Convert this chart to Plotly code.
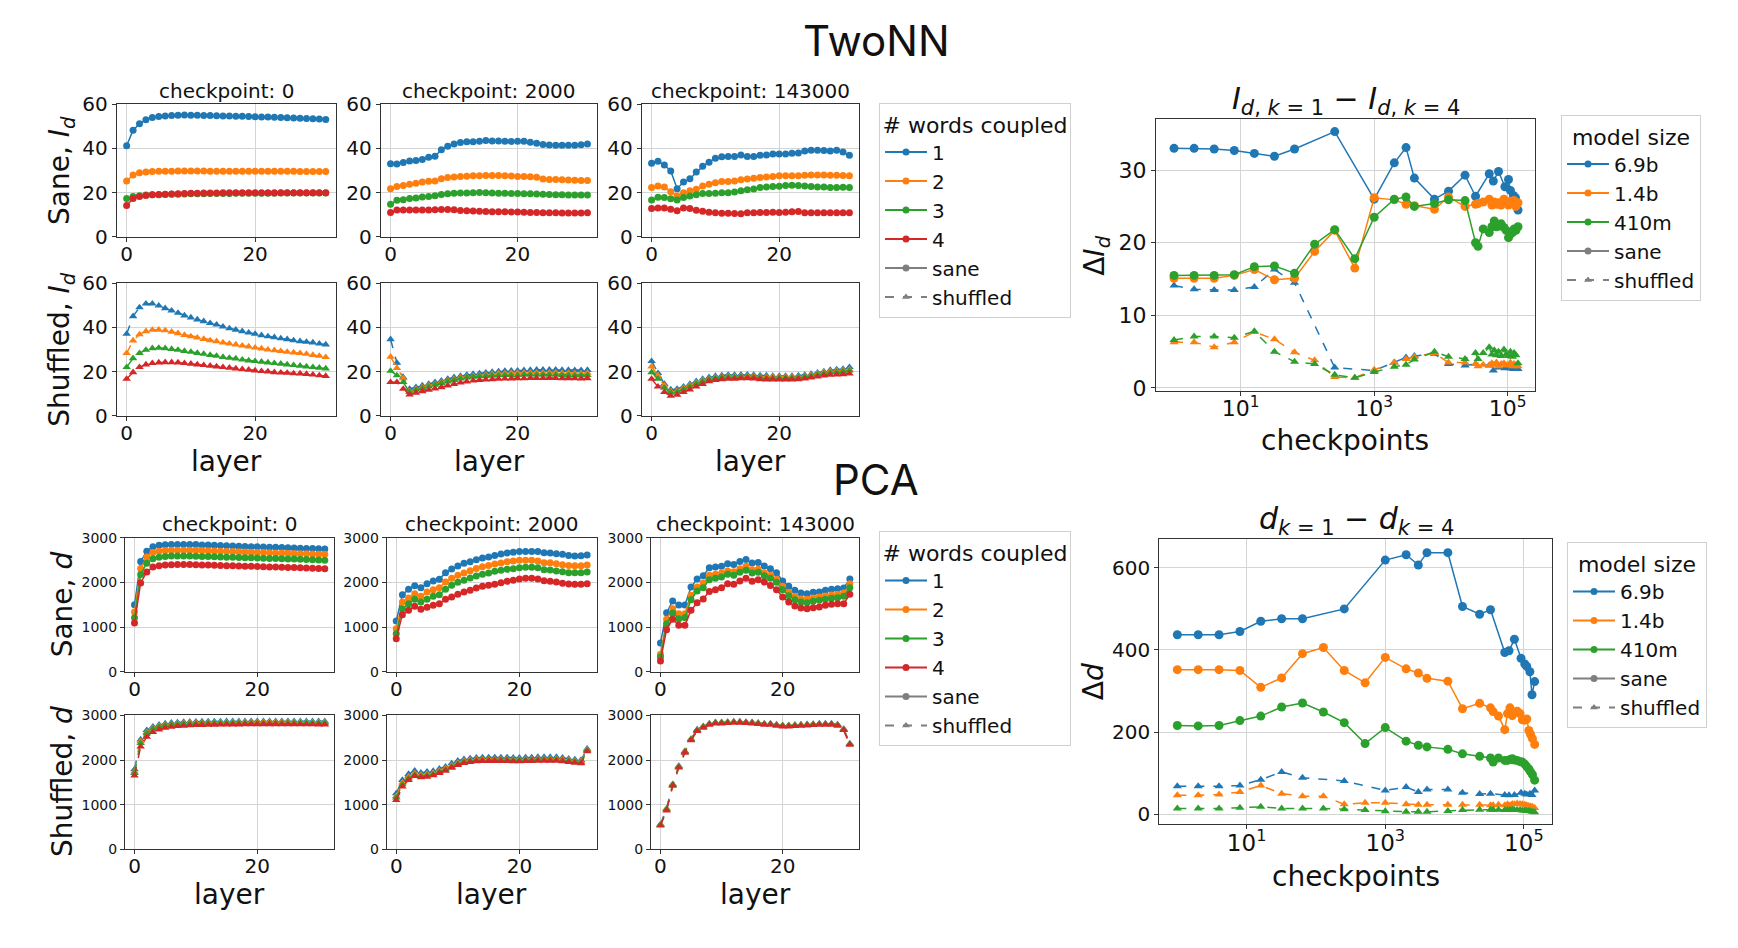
import plotly.graph_objects as go

W, H = 1738, 948
FONT = "DejaVu Sans"
COLORS = ["#1f77b4", "#ff7f0e", "#2ca02c", "#d62728"]
GRAY = "#7f7f7f"

layers = list(range(32))
checkpoint_titles = ["checkpoint: 0", "checkpoint: 2000", "checkpoint: 143000"]
k_labels = ["1", "2", "3", "4"]
model_labels = ["6.9b", "1.4b", "410m"]

# ---------------- TwoNN, sane ----------------
tw_sane_c0_k1 = [41.2, 48.3, 51.2, 53.0, 54.0, 54.5, 54.7, 54.9, 55.0, 55.2, 55.0, 55.0, 54.9, 54.9, 54.8, 54.7, 54.7, 54.6, 54.6, 54.5, 54.4, 54.3, 54.2, 54.1, 54.0, 53.9, 53.8, 53.7, 53.6, 53.5, 53.3, 53.1]
tw_sane_c0_k2 = [25.3, 28.0, 29.0, 29.4, 29.6, 29.7, 29.7, 29.7, 29.8, 29.8, 29.8, 29.8, 29.8, 29.7, 29.7, 29.7, 29.7, 29.7, 29.7, 29.7, 29.7, 29.7, 29.7, 29.7, 29.7, 29.7, 29.7, 29.6, 29.6, 29.6, 29.6, 29.6]
tw_sane_c0_k3 = [17.4, 18.2, 18.6, 18.9, 19.0, 19.1, 19.2, 19.3, 19.3, 19.4, 19.5, 19.5, 19.5, 19.6, 19.6, 19.6, 19.6, 19.7, 19.7, 19.7, 19.7, 19.7, 19.7, 19.7, 19.8, 19.8, 19.8, 19.8, 19.8, 19.8, 19.8, 19.8]
tw_sane_c0_k4 = [14.2, 17.3, 18.2, 18.7, 19.0, 19.2, 19.3, 19.4, 19.5, 19.6, 19.7, 19.7, 19.8, 19.8, 19.8, 19.9, 19.9, 19.9, 19.9, 19.9, 20.0, 20.0, 20.0, 20.0, 20.0, 20.0, 20.0, 20.0, 20.0, 20.0, 20.0, 20.0]

tw_sane_c1_k1 = [33.1, 33.0, 33.7, 34.3, 34.5, 35.0, 36.0, 36.5, 39.4, 41.0, 42.0, 42.7, 43.0, 43.0, 43.3, 43.6, 43.4, 43.4, 43.3, 43.2, 43.3, 43.3, 42.8, 42.4, 41.8, 41.6, 41.5, 41.5, 41.5, 41.5, 41.7, 42.0]
tw_sane_c1_k2 = [21.8, 22.8, 23.2, 23.8, 24.2, 24.8, 25.2, 25.3, 26.3, 26.8, 27.1, 27.3, 27.4, 27.6, 27.7, 27.8, 27.8, 27.8, 27.6, 27.5, 27.3, 27.3, 27.2, 27.0, 26.2, 26.0, 25.9, 25.8, 25.7, 25.6, 25.5, 25.5]
tw_sane_c1_k3 = [14.7, 16.6, 16.8, 17.3, 17.6, 18.0, 18.3, 18.6, 19.2, 19.5, 19.7, 19.8, 19.8, 20.0, 20.1, 19.9, 19.8, 19.7, 19.7, 19.6, 19.6, 19.5, 19.5, 19.4, 19.3, 19.2, 19.1, 19.0, 18.9, 18.9, 18.9, 18.9]
tw_sane_c1_k4 = [11.0, 12.1, 12.1, 12.1, 12.1, 12.1, 12.1, 12.2, 12.4, 12.4, 12.2, 11.9, 11.8, 11.7, 11.6, 11.5, 11.4, 11.4, 11.3, 11.2, 11.2, 11.1, 11.0, 11.0, 10.9, 10.9, 10.9, 10.8, 10.8, 10.8, 10.8, 10.9]

tw_sane_c2_k1 = [33.3, 34.2, 32.5, 29.8, 21.8, 24.8, 26.3, 29.3, 31.9, 33.8, 35.6, 36.2, 36.4, 36.4, 37.0, 36.4, 36.4, 36.9, 37.0, 37.5, 37.5, 37.5, 37.8, 38.0, 38.9, 39.2, 39.2, 39.1, 38.9, 39.2, 38.4, 36.9]
tw_sane_c2_k2 = [22.3, 23.0, 22.6, 20.4, 18.5, 20.0, 20.8, 21.5, 23.0, 23.8, 24.5, 25.0, 25.0, 25.3, 25.8, 26.2, 26.5, 26.8, 27.1, 27.3, 27.6, 27.6, 27.7, 27.7, 27.9, 28.0, 28.0, 28.0, 27.9, 27.9, 27.8, 27.6]
tw_sane_c2_k3 = [16.7, 17.9, 17.8, 17.2, 16.7, 17.8, 18.5, 19.1, 19.6, 19.6, 19.7, 20.0, 20.0, 20.3, 20.8, 21.3, 21.7, 22.3, 22.6, 22.8, 22.9, 23.2, 23.4, 23.2, 23.0, 22.8, 22.6, 22.5, 22.3, 22.3, 22.4, 22.3]
tw_sane_c2_k4 = [12.8, 13.0, 13.0, 12.5, 11.8, 13.1, 12.8, 12.0, 11.6, 11.1, 10.9, 10.7, 10.7, 10.6, 10.4, 10.9, 10.9, 11.0, 11.0, 11.1, 11.0, 11.1, 11.3, 11.5, 10.9, 10.9, 10.9, 10.9, 10.9, 10.9, 10.9, 10.9]

# ---------------- TwoNN, shuffled ----------------
tw_shuf_c0_k1 = [37.0, 45.0, 49.0, 50.7, 50.7, 49.8, 48.6, 47.5, 46.5, 45.3, 44.4, 43.5, 42.7, 41.9, 41.2, 40.3, 39.5, 38.9, 38.2, 37.6, 37.0, 36.4, 35.9, 35.5, 35.0, 34.6, 34.1, 33.7, 33.4, 33.1, 32.6, 32.2]
tw_shuf_c0_k2 = [28.3, 34.0, 36.8, 38.2, 38.8, 38.9, 38.6, 38.0, 37.3, 36.5, 35.9, 35.3, 34.7, 34.1, 33.7, 33.1, 32.6, 32.2, 31.7, 31.3, 30.8, 30.4, 29.9, 29.6, 29.2, 28.9, 28.6, 28.3, 28.0, 27.5, 27.1, 26.5]
tw_shuf_c0_k3 = [22.0, 26.0, 28.3, 29.8, 30.5, 30.7, 30.5, 30.2, 29.8, 29.3, 28.9, 28.4, 28.0, 27.5, 27.1, 26.6, 26.2, 25.9, 25.4, 25.0, 24.7, 24.4, 24.1, 23.8, 23.5, 23.2, 22.9, 22.6, 22.3, 22.0, 21.7, 21.4]
tw_shuf_c0_k4 = [16.7, 19.7, 22.0, 23.2, 23.8, 24.1, 24.2, 24.2, 24.1, 23.8, 23.5, 23.2, 22.9, 22.6, 22.3, 22.0, 21.7, 21.4, 21.1, 20.8, 20.5, 20.2, 20.0, 19.7, 19.5, 19.4, 19.2, 19.1, 18.9, 18.6, 18.3, 18.0]

tw_shuf_c1_k1 = [34.6, 24.0, 17.4, 12.2, 12.9, 13.7, 14.4, 15.2, 15.9, 16.7, 17.4, 18.0, 18.5, 18.9, 19.2, 19.5, 19.8, 20.1, 20.3, 20.4, 20.4, 20.6, 20.7, 20.8, 20.8, 20.8, 20.8, 20.7, 20.7, 20.6, 20.6, 20.7]
tw_shuf_c1_k2 = [26.7, 21.6, 17.0, 11.0, 12.2, 12.9, 13.7, 14.4, 15.2, 15.9, 16.7, 17.3, 17.7, 18.0, 18.3, 18.6, 18.9, 19.1, 19.2, 19.4, 19.4, 19.5, 19.5, 19.5, 19.5, 19.5, 19.5, 19.4, 19.4, 19.2, 19.2, 19.4]
tw_shuf_c1_k3 = [20.3, 18.3, 15.2, 10.7, 11.7, 12.5, 13.2, 14.0, 14.7, 15.5, 16.2, 16.8, 17.3, 17.6, 17.9, 18.0, 18.2, 18.3, 18.4, 18.4, 18.4, 18.6, 18.6, 18.6, 18.6, 18.6, 18.6, 18.4, 18.4, 18.3, 18.3, 18.4]
tw_shuf_c1_k4 = [15.2, 15.2, 12.2, 9.6, 10.4, 11.1, 11.7, 12.3, 12.9, 13.7, 14.4, 15.0, 15.5, 15.9, 16.2, 16.4, 16.5, 16.7, 16.8, 16.8, 17.0, 17.0, 17.1, 17.1, 17.1, 17.1, 17.1, 17.0, 17.0, 17.0, 16.8, 17.0]

tw_shuf_c2_k1 = [24.7, 19.3, 14.4, 11.9, 12.2, 13.2, 14.4, 15.6, 16.7, 17.4, 18.0, 18.3, 18.5, 18.5, 18.6, 18.6, 18.5, 18.3, 18.2, 18.0, 18.0, 18.0, 18.0, 18.2, 18.5, 18.9, 19.5, 20.1, 20.7, 21.0, 21.2, 22.0]
tw_shuf_c2_k2 = [22.3, 18.2, 13.7, 11.1, 11.4, 12.6, 13.8, 15.0, 16.1, 16.8, 17.4, 17.7, 17.9, 17.9, 18.0, 18.0, 17.9, 17.7, 17.6, 17.6, 17.6, 17.6, 17.6, 17.7, 18.0, 18.5, 19.1, 19.7, 20.1, 20.4, 20.6, 21.0]
tw_shuf_c2_k3 = [19.7, 16.7, 12.6, 10.4, 10.8, 12.0, 13.2, 14.4, 15.5, 16.4, 17.0, 17.3, 17.4, 17.4, 17.6, 17.6, 17.4, 17.3, 17.1, 17.1, 17.1, 17.1, 17.1, 17.3, 17.6, 18.0, 18.6, 19.1, 19.5, 19.8, 20.0, 20.4]
tw_shuf_c2_k4 = [16.7, 13.2, 10.7, 9.0, 9.5, 10.7, 11.9, 13.2, 14.4, 15.6, 16.2, 16.5, 16.7, 16.7, 17.0, 17.0, 16.8, 16.5, 16.4, 16.4, 16.4, 16.4, 16.4, 16.5, 16.8, 17.3, 17.7, 18.2, 18.5, 18.6, 18.8, 19.1]

# ---------------- PCA, sane ----------------
pca_sane_c0_k1 = [1500, 2470, 2700, 2800, 2830, 2845, 2850, 2850, 2850, 2850, 2848, 2840, 2835, 2830, 2825, 2820, 2815, 2810, 2805, 2800, 2800, 2795, 2790, 2785, 2780, 2775, 2770, 2765, 2760, 2758, 2755, 2750]
pca_sane_c0_k2 = [1340, 2310, 2570, 2670, 2700, 2715, 2720, 2722, 2722, 2720, 2718, 2712, 2708, 2703, 2698, 2694, 2690, 2685, 2680, 2676, 2672, 2668, 2664, 2660, 2656, 2652, 2648, 2644, 2640, 2636, 2632, 2628]
pca_sane_c0_k3 = [1210, 2180, 2430, 2530, 2565, 2580, 2590, 2592, 2592, 2590, 2588, 2582, 2578, 2574, 2570, 2566, 2562, 2558, 2554, 2550, 2546, 2542, 2538, 2534, 2530, 2526, 2522, 2518, 2514, 2508, 2502, 2496]
pca_sane_c0_k4 = [1095, 1990, 2235, 2345, 2375, 2388, 2395, 2400, 2402, 2400, 2396, 2392, 2388, 2384, 2380, 2376, 2372, 2368, 2364, 2360, 2356, 2352, 2348, 2344, 2340, 2336, 2332, 2328, 2324, 2318, 2312, 2306]

pca_sane_c1_k1 = [1139, 1727, 1846, 1928, 1883, 1972, 2032, 2070, 2219, 2300, 2367, 2427, 2464, 2509, 2546, 2568, 2605, 2635, 2658, 2673, 2695, 2695, 2695, 2692, 2665, 2658, 2643, 2628, 2605, 2590, 2598, 2613]
pca_sane_c1_k2 = [968, 1564, 1653, 1750, 1690, 1787, 1839, 1883, 2010, 2092, 2159, 2211, 2263, 2315, 2352, 2382, 2412, 2434, 2464, 2479, 2494, 2494, 2494, 2479, 2442, 2442, 2419, 2397, 2382, 2375, 2375, 2390]
pca_sane_c1_k3 = [856, 1415, 1527, 1623, 1564, 1623, 1690, 1727, 1846, 1936, 2003, 2048, 2100, 2144, 2182, 2211, 2249, 2271, 2293, 2308, 2330, 2338, 2338, 2330, 2286, 2280, 2256, 2241, 2219, 2219, 2219, 2234]
pca_sane_c1_k4 = [744, 1281, 1378, 1467, 1400, 1444, 1489, 1527, 1623, 1675, 1735, 1787, 1824, 1876, 1914, 1936, 1958, 1995, 2025, 2048, 2077, 2092, 2092, 2077, 2040, 2025, 2010, 1981, 1966, 1958, 1958, 1973]

pca_sane_c2_k1 = [648, 1325, 1586, 1496, 1496, 1898, 2077, 2151, 2330, 2345, 2360, 2419, 2404, 2471, 2516, 2434, 2449, 2367, 2308, 2219, 2032, 1913, 1824, 1764, 1749, 1779, 1786, 1824, 1846, 1861, 1876, 2077]
pca_sane_c2_k2 = [395, 1176, 1414, 1303, 1303, 1712, 1898, 1987, 2159, 2181, 2211, 2256, 2241, 2308, 2360, 2286, 2293, 2219, 2159, 2070, 1913, 1779, 1690, 1630, 1623, 1652, 1675, 1697, 1720, 1734, 1764, 1973]
pca_sane_c2_k3 = [335, 1079, 1318, 1191, 1213, 1615, 1809, 1883, 2062, 2092, 2122, 2181, 2159, 2226, 2271, 2211, 2226, 2151, 2092, 2003, 1839, 1705, 1615, 1563, 1548, 1578, 1600, 1623, 1645, 1660, 1690, 1883]
pca_sane_c2_k4 = [246, 946, 1176, 1042, 1042, 1377, 1548, 1630, 1801, 1839, 1883, 1973, 1958, 2032, 2092, 2025, 2062, 2010, 1935, 1839, 1675, 1563, 1474, 1429, 1414, 1437, 1451, 1489, 1511, 1526, 1526, 1734]

# ---------------- PCA, shuffled ----------------
pca_shuf_c0_k1 = [1790, 2460, 2670, 2750, 2790, 2820, 2835, 2845, 2855, 2860, 2862, 2865, 2866, 2867, 2868, 2869, 2870, 2870, 2871, 2872, 2873, 2873, 2873, 2873, 2872, 2872, 2872, 2871, 2871, 2870, 2870, 2869]
pca_shuf_c0_k2 = [1740, 2420, 2630, 2720, 2765, 2795, 2810, 2820, 2830, 2835, 2838, 2840, 2842, 2843, 2844, 2845, 2846, 2846, 2847, 2848, 2848, 2849, 2849, 2849, 2848, 2848, 2848, 2848, 2847, 2847, 2846, 2846]
pca_shuf_c0_k3 = [1710, 2380, 2600, 2700, 2745, 2775, 2790, 2800, 2808, 2813, 2816, 2818, 2820, 2821, 2822, 2823, 2824, 2825, 2825, 2826, 2826, 2827, 2827, 2827, 2826, 2826, 2826, 2826, 2825, 2825, 2824, 2824]
pca_shuf_c0_k4 = [1650, 2300, 2520, 2630, 2685, 2720, 2745, 2760, 2770, 2778, 2783, 2787, 2790, 2792, 2794, 2796, 2797, 2798, 2799, 2800, 2800, 2801, 2801, 2801, 2800, 2800, 2800, 2800, 2799, 2799, 2798, 2798]

pca_shuf_c1_k1 = [1254, 1552, 1686, 1761, 1716, 1739, 1754, 1806, 1851, 1925, 1985, 2022, 2037, 2052, 2060, 2060, 2060, 2060, 2060, 2052, 2052, 2060, 2060, 2067, 2067, 2067, 2067, 2052, 2030, 2015, 2000, 2254]
pca_shuf_c1_k2 = [1194, 1493, 1627, 1701, 1672, 1686, 1709, 1761, 1813, 1881, 1940, 1985, 2000, 2015, 2022, 2022, 2022, 2022, 2022, 2015, 2015, 2022, 2022, 2030, 2030, 2030, 2030, 2015, 2000, 1985, 1970, 2231]
pca_shuf_c1_k3 = [1157, 1455, 1590, 1664, 1642, 1657, 1679, 1731, 1784, 1851, 1910, 1955, 1978, 1993, 2000, 2000, 2000, 2000, 2000, 1993, 1993, 2000, 2000, 2007, 2007, 2007, 2007, 1993, 1978, 1963, 1948, 2216]
pca_shuf_c1_k4 = [1104, 1403, 1552, 1642, 1612, 1627, 1657, 1709, 1761, 1828, 1888, 1933, 1955, 1970, 1978, 1978, 1978, 1978, 1978, 1970, 1970, 1978, 1978, 1985, 1985, 1985, 1985, 1970, 1955, 1940, 1925, 2194]

pca_shuf_c2_k1 = [560, 910, 1460, 1870, 2200, 2475, 2685, 2760, 2820, 2850, 2850, 2857, 2865, 2865, 2857, 2850, 2835, 2820, 2820, 2798, 2783, 2783, 2790, 2798, 2805, 2812, 2820, 2820, 2820, 2798, 2700, 2372]
pca_shuf_c2_k2 = [550, 900, 1445, 1855, 2190, 2465, 2675, 2750, 2810, 2840, 2840, 2847, 2855, 2855, 2847, 2840, 2825, 2810, 2810, 2788, 2773, 2773, 2780, 2788, 2795, 2802, 2810, 2810, 2810, 2788, 2690, 2362]
pca_shuf_c2_k3 = [545, 895, 1440, 1850, 2185, 2460, 2670, 2745, 2805, 2835, 2835, 2842, 2850, 2850, 2842, 2835, 2820, 2805, 2805, 2783, 2768, 2768, 2775, 2783, 2790, 2797, 2805, 2805, 2805, 2783, 2685, 2357]
pca_shuf_c2_k4 = [530, 870, 1420, 1830, 2165, 2440, 2650, 2725, 2790, 2820, 2820, 2827, 2835, 2835, 2827, 2820, 2805, 2790, 2790, 2768, 2753, 2753, 2760, 2768, 2775, 2782, 2790, 2790, 2790, 2768, 2670, 2342]

# ---------------- right panels: k=1 minus k=4 over checkpoints ----------------
ckpts_69b = [1, 2, 4, 8, 16, 32, 64, 256, 1000, 2000, 3000, 4000, 8000,
             13000, 23000, 33000, 53000, 61000, 73000, 91000, 103000, 110000, 122000, 131000, 143000]
ckpts_small = [1, 2, 4, 8, 16, 32, 64, 128, 256, 512, 1000, 2000, 3000, 4000, 8000, 13000, 23000,
               33000, 36000, 43000, 53000, 58000, 63000, 68000, 73000, 80000, 88000, 95000, 103000,
               110000, 118000, 125000, 133000, 143000]

tw_diff_sane_69b = [33.0, 33.0, 32.9, 32.7, 32.3, 31.9, 32.9, 35.3, 26.0, 31.0, 33.1, 28.9, 26.0,
                    27.1, 29.3, 26.4, 29.5, 28.5, 29.8, 27.7, 28.7, 27.2, 26.5, 26.2, 24.5]
tw_diff_shuf_69b = [14.1, 13.6, 13.5, 13.5, 13.9, 16.3, 14.5, 2.8, 2.4, 3.5, 4.2, 4.4, 4.7,
                    3.3, 3.1, 3.3, 3.1, 2.4, 2.8, 2.7, 2.8, 2.7, 2.6, 2.6, 2.6]
tw_diff_sane_14b = [15.1, 15.1, 15.1, 15.5, 16.3, 14.9, 15.1, 18.8, 21.7, 16.5, 26.2, 25.9, 25.3, 25.1, 24.6, 26.3, 25.0,
                    25.3, 25.4, 25.6, 26.0, 25.2, 25.6, 25.3, 25.5, 25.2, 26.0, 25.5, 25.2, 25.7, 25.4, 25.8, 25.0, 25.5]
tw_diff_shuf_14b = [6.3, 6.3, 5.6, 6.3, 7.7, 6.7, 4.9, 3.8, 1.5, 1.4, 2.5, 3.5, 4.0, 4.3, 4.8, 3.5, 3.5,
                    3.3, 3.0, 3.2, 3.1, 3.4, 3.2, 3.5, 3.0, 3.3, 3.4, 3.1, 3.2, 3.5, 3.0, 3.3, 3.1, 3.0]
tw_diff_sane_410m = [15.5, 15.5, 15.5, 15.6, 16.7, 16.8, 15.8, 19.8, 21.8, 17.8, 23.5, 26.0, 26.3, 25.0, 25.4, 25.9, 25.8,
                     20.0, 19.5, 21.9, 21.4, 22.2, 23.0, 22.2, 22.3, 22.6, 22.1, 21.7, 20.7, 21.2, 21.4, 21.9, 21.7, 22.2]
tw_diff_shuf_410m = [6.6, 7.1, 7.1, 6.9, 7.8, 5.0, 3.6, 3.3, 1.8, 1.4, 2.2, 2.9, 3.2, 3.9, 5.0, 4.3, 4.0,
                     4.8, 4.0, 4.8, 5.6, 4.6, 5.2, 4.5, 5.0, 4.4, 5.3, 4.6, 4.4, 5.0, 4.3, 4.8, 4.5, 3.4]

pca_diff_sane_69b = [437, 437, 437, 445, 470, 476, 476, 500, 619, 632, 607, 637, 637,
                     506, 487, 498, 394, 398, 426, 380, 366, 360, 347, 291, 323]
pca_diff_shuf_69b = [68, 68, 68, 70, 84, 103, 89, 81, 58, 66, 54, 60, 60,
                     52, 49, 50, 47, 46, 47, 52, 50, 48, 50, 47, 58]
pca_diff_sane_14b = [352, 352, 352, 350, 309, 332, 391, 406, 350, 320, 382, 354, 344, 331, 324, 257, 270,
                     259, 250, 239, 206, 245, 259, 240, 248, 251, 245, 230, 229, 232, 204, 194, 184, 170]
pca_diff_shuf_14b = [46, 46, 48, 54, 70, 50, 44, 44, 24, 28, 28, 24, 23, 23, 23, 23, 23,
                     22, 22, 23, 22, 24, 22, 25, 24, 26, 25, 24, 23, 22, 20, 19, 18, 15]
pca_diff_sane_410m = [216, 215, 216, 228, 239, 261, 271, 249, 223, 172, 211, 178, 168, 164, 158, 147, 141,
                      137, 127, 137, 131, 131, 133, 135, 132, 131, 128, 127, 122, 116, 110, 103, 96, 83]
pca_diff_shuf_410m = [14, 14, 14, 16, 18, 14, 14, 14, 12, 10, 7, 6, 6, 6, 8, 10, 11,
                      11, 11, 11, 10, 11, 10, 11, 10, 10, 10, 9, 9, 8, 8, 7, 6, 5]

# ---------------- layout helpers ----------------
# positions below are target screen pixels; converted to paper fractions
# (compensating the page offset observed in the rendered screenshot)
OX, OY, SY = 8.0, 18.9, 925.2

def fx(px):
    return (px - OX) / W

def fy(py):
    return 1 - (py - OY) / SY

def dx(l, r):
    return [fx(l), fx(r)]

def dy(t, b):
    return [fy(b), fy(t)]

GRID = "#d4d4d4"
SPINE = "#333333"

fig = go.Figure()
layout = dict(width=W, height=H, margin=dict(l=0, r=0, t=0, b=0),
              paper_bgcolor="white", plot_bgcolor="white",
              font=dict(family=FONT, color="#111111"), showlegend=True)

def axis_common(fs, standoff=0):
    return dict(showline=True, mirror=True, linecolor=SPINE, linewidth=1,
                showgrid=True, gridcolor=GRID, gridwidth=1, zeroline=False,
                ticks="outside", ticklen=4, tickcolor=SPINE, ticklabelstandoff=standoff,
                tickfont=dict(family=FONT, size=fs, color="#111111"))

tw_cols = [(116.7, 335.7), (380.7, 597.3), (641.7, 859.3)]
pca_cols = [(125.0, 334.3), (386.7, 596.7), (651.0, 859.3)]
tw_rows = [(103.3, 236.0), (282.3, 415.3)]
pca_rows = [(537.3, 671.7), (715.3, 849.3)]

tw_sane = [[tw_sane_c0_k1, tw_sane_c0_k2, tw_sane_c0_k3, tw_sane_c0_k4],
           [tw_sane_c1_k1, tw_sane_c1_k2, tw_sane_c1_k3, tw_sane_c1_k4],
           [tw_sane_c2_k1, tw_sane_c2_k2, tw_sane_c2_k3, tw_sane_c2_k4]]
tw_shuf = [[tw_shuf_c0_k1, tw_shuf_c0_k2, tw_shuf_c0_k3, tw_shuf_c0_k4],
           [tw_shuf_c1_k1, tw_shuf_c1_k2, tw_shuf_c1_k3, tw_shuf_c1_k4],
           [tw_shuf_c2_k1, tw_shuf_c2_k2, tw_shuf_c2_k3, tw_shuf_c2_k4]]
pca_sane = [[pca_sane_c0_k1, pca_sane_c0_k2, pca_sane_c0_k3, pca_sane_c0_k4],
            [pca_sane_c1_k1, pca_sane_c1_k2, pca_sane_c1_k3, pca_sane_c1_k4],
            [pca_sane_c2_k1, pca_sane_c2_k2, pca_sane_c2_k3, pca_sane_c2_k4]]
pca_shuf = [[pca_shuf_c0_k1, pca_shuf_c0_k2, pca_shuf_c0_k3, pca_shuf_c0_k4],
            [pca_shuf_c1_k1, pca_shuf_c1_k2, pca_shuf_c1_k3, pca_shuf_c1_k4],
            [pca_shuf_c2_k1, pca_shuf_c2_k2, pca_shuf_c2_k3, pca_shuf_c2_k4]]

blocks = [
    (tw_sane, tw_cols, tw_rows[0], False, [0, 60], [0, 20, 40, 60], 20, 20),
    (tw_shuf, tw_cols, tw_rows[1], True, [0, 60], [0, 20, 40, 60], 20, 20),
    (pca_sane, pca_cols, pca_rows[0], False, [0, 3000], [0, 1000, 2000, 3000], 20, 14),
    (pca_shuf, pca_cols, pca_rows[1], True, [0, 3000], [0, 1000, 2000, 3000], 20, 14),
]

ax = 0
for data, cols, (top, bot), shuffled, yr, yt, xfs, yfs in blocks:
    for ci, (l, r) in enumerate(cols):
        ax += 1
        xa = axis_common(xfs, standoff=-5)
        xa.update(domain=dx(l, r), anchor=f"y{ax}", range=[-1.55, 32.55], tickvals=[0, 20])
        ya = axis_common(yfs)
        ya.update(domain=dy(top, bot), anchor=f"x{ax}", range=yr, tickvals=yt)
        layout["xaxis" if ax == 1 else f"xaxis{ax}"] = xa
        layout["yaxis" if ax == 1 else f"yaxis{ax}"] = ya
        for k in range(4):
            fig.add_trace(go.Scatter(
                x=layers, y=data[ci][k], mode="lines+markers",
                line=dict(color=COLORS[k], width=1.5, dash="dash" if shuffled else "solid"),
                marker=dict(color=COLORS[k], size=7 if not shuffled else 7.5,
                            symbol="triangle-up" if shuffled else "circle"),
                xaxis=f"x{ax}" if ax > 1 else "x", yaxis=f"y{ax}" if ax > 1 else "y",
                showlegend=False, hoverinfo="skip"))

# right panels
right = [
    (13, (1156.0, 1535.0), (118.3, 390.0), [-0.27, 5.41], [-0.37, 37.0], [0, 10, 20, 30], 22, 22,
     [tw_diff_sane_69b, tw_diff_sane_14b, tw_diff_sane_410m],
     [tw_diff_shuf_69b, tw_diff_shuf_14b, tw_diff_shuf_410m]),
    (14, (1159.3, 1552.3), (538.3, 824.0), [-0.26, 5.41], [-24, 671], [0, 200, 400, 600], 23, 20,
     [pca_diff_sane_69b, pca_diff_sane_14b, pca_diff_sane_410m],
     [pca_diff_shuf_69b, pca_diff_shuf_14b, pca_diff_shuf_410m]),
]
ck_lists = [ckpts_69b, ckpts_small, ckpts_small]
for a, (l, r), (t, b), xr, yr, yt, xfs, yfs, sane_list, shuf_list in right:
    xa = axis_common(xfs, standoff=-6)
    xa.update(domain=dx(l, r), anchor=f"y{a}", type="log", range=xr,
              tickvals=[10, 1000, 100000],
              ticktext=["10<sup>1</sup>", "10<sup>3</sup>", "10<sup>5</sup>"])
    ya = axis_common(yfs)
    ya.update(domain=dy(t, b), anchor=f"x{a}", range=yr, tickvals=yt)
    layout[f"xaxis{a}"] = xa
    layout[f"yaxis{a}"] = ya
    for m in range(3):
        fig.add_trace(go.Scatter(
            x=ck_lists[m], y=shuf_list[m], mode="lines+markers",
            line=dict(color=COLORS[m], width=1.5, dash="dash"),
            marker=dict(color=COLORS[m], size=8, symbol="triangle-up"),
            xaxis=f"x{a}", yaxis=f"y{a}", showlegend=False, hoverinfo="skip"))
    for m in range(3):
        fig.add_trace(go.Scatter(
            x=ck_lists[m], y=sane_list[m], mode="lines+markers",
            line=dict(color=COLORS[m], width=1.5),
            marker=dict(color=COLORS[m], size=9, symbol="circle"),
            xaxis=f"x{a}", yaxis=f"y{a}", showlegend=False, hoverinfo="skip"))

# legend entries
def legend_entries(names, colors, legend_id):
    for n, c in zip(names, colors):
        fig.add_trace(go.Scatter(x=[None], y=[None], mode="lines+markers", name=n,
                                 line=dict(color=c, width=2), marker=dict(color=c, size=7, symbol="circle"),
                                 legend=legend_id, xaxis="x", yaxis="y", showlegend=True))
    fig.add_trace(go.Scatter(x=[None], y=[None], mode="lines+markers", name="sane",
                             line=dict(color=GRAY, width=2), marker=dict(color=GRAY, size=7, symbol="circle"),
                             legend=legend_id, xaxis="x", yaxis="y", showlegend=True))
    fig.add_trace(go.Scatter(x=[None], y=[None], mode="lines+markers", name="shuffled",
                             line=dict(color=GRAY, width=2, dash="dash"),
                             marker=dict(color=GRAY, size=7, symbol="triangle-up"),
                             legend=legend_id, xaxis="x", yaxis="y", showlegend=True))

legend_entries(k_labels, COLORS, "legend")
legend_entries(k_labels, COLORS, "legend2")
legend_entries(model_labels, COLORS[:3], "legend3")
legend_entries(model_labels, COLORS[:3], "legend4")

def legend_style(x, y, title):
    return dict(x=fx(x), y=fy(y), xanchor="left", yanchor="top",
                bgcolor="white", bordercolor="#d0d0d0", borderwidth=1,
                font=dict(family=FONT, size=20, color="#111111"),
                title=dict(text=title, side="top center", font=dict(family=FONT, size=22, color="#111111")),
                itemwidth=42, tracegroupgap=0, itemsizing="trace")

layout["legend"] = legend_style(879, 102, "# words coupled")
layout["legend2"] = legend_style(879, 531, "# words coupled")
layout["legend3"] = legend_style(1561, 114, "model size")
layout["legend4"] = legend_style(1567, 542, "model size")

# annotations
ann = []
def text(x, y, s, size, angle=0, family=FONT):
    ann.append(dict(x=fx(x), y=fy(y), xref="paper", yref="paper", text=s, showarrow=False,
                    xanchor="center", yanchor="middle", textangle=angle,
                    font=dict(family=family, size=size, color="#111111")))

text(876, 39, "TwoNN", 42, family="Inter")
text(876, 479, "PCA", 42, family="Inter")
for (l, r), t in zip(tw_cols, checkpoint_titles):
    text((l + r) / 2, 90, t, 20)
    text((l + r) / 2, 461, "layer", 28)
for (l, r), t in zip(pca_cols, checkpoint_titles):
    text((l + r) / 2, 524, t, 20)
    text((l + r) / 2, 895, "layer", 28)

text(62, 170, "Sane, <i>I</i><sub><i>d</i></sub>", 28, angle=-90)
text(62, 349, "Shuffled, <i>I</i><sub><i>d</i></sub>", 28, angle=-90)
text(62, 604, "Sane, <i>d</i>", 28, angle=-90)
text(62, 782, "Shuffled, <i>d</i>", 28, angle=-90)

text(1346, 100, "<i>I</i><sub><i>d</i>, <i>k</i> = 1</sub> \u2212 <i>I</i><sub><i>d</i>, <i>k</i> = 4</sub>", 30)
text(1356, 520, "<i>d</i><sub><i>k</i> = 1</sub> \u2212 <i>d</i><sub><i>k</i> = 4</sub>", 30)
text(1345, 440, "checkpoints", 28)
text(1356, 877, "checkpoints", 28)
text(1097, 255, "\u0394<i>I</i><sub><i>d</i></sub>", 28, angle=-90)
text(1093, 682, "\u0394<i>d</i>", 28, angle=-90)

layout["annotations"] = ann
fig.update_layout(**layout)
fig.write_html("out.html")
